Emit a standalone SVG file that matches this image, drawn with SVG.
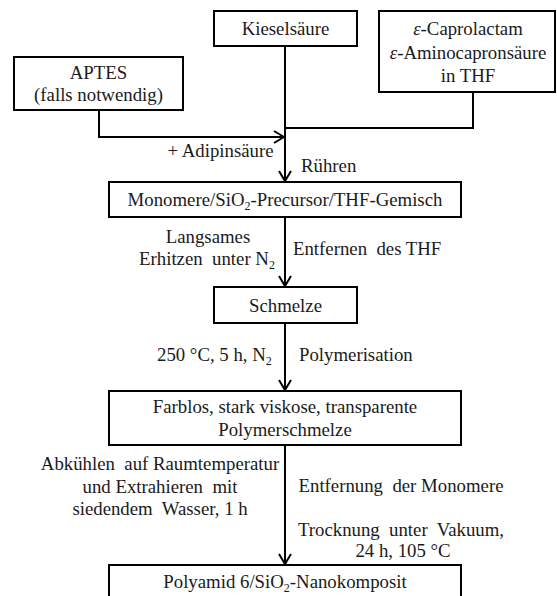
<svg xmlns="http://www.w3.org/2000/svg" width="557" height="596" viewBox="0 0 557 596" font-family="'Liberation Serif', 'DejaVu Serif', serif">
<style>
.box{fill:#fff;stroke:#000;stroke-width:2}
.ln{fill:none;stroke:#000;stroke-width:2}
.t{font-family:'Liberation Serif','DejaVu Serif',serif;font-size:18.8px;fill:#1a1a1a}
.c{text-anchor:middle}
.sub{font-size:12px}
</style>
<defs>
<marker id="arr" viewBox="0 0 12 14" refX="11" refY="7" markerWidth="12" markerHeight="14" markerUnits="userSpaceOnUse" orient="auto">
<path d="M1,1 L11,7 L1,13" fill="none" stroke="#000" stroke-width="2"/>
</marker>
</defs>
<rect width="557" height="596" fill="#fff"/>
<g id="connectors">
<path class="ln" d="M285,46 V181" marker-end="url(#arr)"/>
<path class="ln" d="M473,92 V128 H285"/>
<path class="ln" d="M99,110 V137 H284" marker-end="url(#arr)"/>
<path class="ln" d="M285,217 V286" marker-end="url(#arr)"/>
<path class="ln" d="M285,323 V390" marker-end="url(#arr)"/>
<path class="ln" d="M285,445 V564" marker-end="url(#arr)"/>
</g>
<g id="kieselsaeure">
<rect class="box" x="214" y="11" width="143" height="35"/>
<text class="t c" x="285.5" y="35">Kieselsäure</text>
</g>
<g id="caprolactam">
<rect class="box" x="379" y="11" width="176" height="81"/>
<text class="t c" x="468" y="35"><tspan font-style="italic">ε</tspan>-Caprolactam</text>
<text class="t c" x="468" y="59"><tspan font-style="italic">ε</tspan>-Aminocapronsäure</text>
<text class="t c" x="468" y="82">in THF</text>
</g>
<g id="aptes">
<rect class="box" x="14" y="57" width="169" height="53"/>
<text class="t c" x="98.5" y="79">APTES</text>
<text class="t c" x="98.5" y="101">(falls notwendig)</text>
</g>
<g id="labels1">
<text class="t c" x="220.5" y="157">+ Adipinsäure</text>
<text class="t" x="301" y="172">Rühren</text>
</g>
<g id="gemisch">
<rect class="box" x="109" y="182" width="352" height="35"/>
<text class="t c" x="285" y="205.5">Monomere/SiO<tspan class="sub" dy="4">2</tspan><tspan dy="-4">-Precursor/THF-Gemisch</tspan></text>
</g>
<g id="labels2">
<text class="t c" x="208" y="243">Langsames</text>
<text class="t c" x="207" y="265" xml:space="preserve">Erhitzen  unter N<tspan class="sub" dy="4">2</tspan></text>
<text class="t" x="293" y="255" xml:space="preserve">Entfernen  des THF</text>
</g>
<g id="schmelze">
<rect class="box" x="214" y="287" width="143" height="36"/>
<text class="t c" x="285.5" y="312">Schmelze</text>
</g>
<g id="labels3">
<text class="t" x="157" y="360.5">250 °C, 5 h, N<tspan class="sub" dy="4">2</tspan></text>
<text class="t" x="299" y="360.5">Polymerisation</text>
</g>
<g id="polymerschmelze">
<rect class="box" x="109" y="391" width="352" height="54"/>
<text class="t c" x="285" y="413">Farblos, stark viskose, transparente</text>
<text class="t c" x="285" y="435.5">Polymerschmelze</text>
</g>
<g id="labels4">
<text class="t c" x="160" y="470" xml:space="preserve">Abkühlen  auf Raumtemperatur</text>
<text class="t c" x="160" y="492.5" xml:space="preserve">und Extrahieren  mit</text>
<text class="t c" x="160" y="515" xml:space="preserve">siedendem  Wasser, 1 h</text>
<text class="t c" x="401" y="492" xml:space="preserve">Entfernung  der Monomere</text>
<text class="t c" x="401" y="536" xml:space="preserve">Trocknung  unter  Vakuum,</text>
<text class="t c" x="403" y="557">24 h, 105 °C</text>
</g>
<g id="nanokomposit">
<rect class="box" x="109" y="565" width="352" height="40"/>
<text class="t c" x="285" y="588">Polyamid 6/SiO<tspan class="sub" dy="4">2</tspan><tspan dy="-4">-Nanokomposit</tspan></text>
</g>
</svg>
